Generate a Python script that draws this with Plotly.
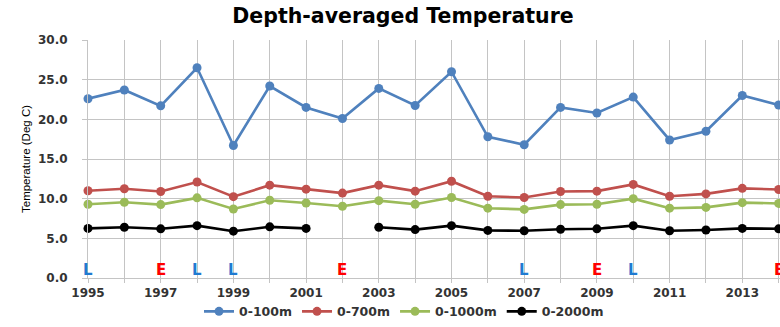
import plotly.graph_objects as go

# Years on the category axis
years = list(range(1995, 2015))

# Depth-averaged temperature (Deg C) per layer
temp_0_100 = [22.6, 23.7, 21.7, 26.5, 16.7, 24.2, 21.5, 20.1, 23.9, 21.75,
              26.0, 17.8, 16.8, 21.5, 20.8, 22.8, 17.4, 18.5, 23.0, 21.8]
temp_0_700 = [11.0, 11.25, 10.9, 12.1, 10.25, 11.7, 11.2, 10.7, 11.7, 10.95,
              12.2, 10.3, 10.15, 10.9, 10.95, 11.8, 10.3, 10.6, 11.3, 11.15]
temp_0_1000 = [9.3, 9.55, 9.25, 10.1, 8.7, 9.8, 9.45, 9.05, 9.75, 9.3,
               10.15, 8.8, 8.65, 9.25, 9.3, 10.0, 8.8, 8.9, 9.5, 9.4]
temp_0_2000 = [6.25, 6.4, 6.2, 6.6, 5.9, 6.45, 6.25, None, 6.4, 6.1,
               6.6, 6.0, 5.95, 6.15, 6.2, 6.6, 5.95, 6.05, 6.25, 6.2]

series_names = ["0-100m", "0-700m", "0-1000m", "0-2000m"]
series_colors = ["#4F81BD", "#C0504D", "#9BBB59", "#000000"]
series_values = [temp_0_100, temp_0_700, temp_0_1000, temp_0_2000]

# La Nina (L) / El Nino (E) years
event_years = [1995, 1997, 1998, 1999, 2002, 2007, 2009, 2010, 2014]
event_labels = ["L", "E", "L", "L", "E", "L", "E", "L", "E"]
event_colors = {"L": "#1F7BD1", "E": "#FF0000"}

y_ticks = [0, 5, 10, 15, 20, 25, 30]

fig = go.Figure()
for name, color, vals in zip(series_names, series_colors, series_values):
    fig.add_trace(go.Scatter(
        x=years, y=vals, name=name, mode="lines+markers",
        line=dict(color=color, width=2.6),
        marker=dict(color=color, size=9, symbol="circle"),
        connectgaps=False, cliponaxis=False,
    ))

for yr, lab in zip(event_years, event_labels):
    fig.add_annotation(
        x=yr, y=0.95, xref="x", yref="y", text=f"<b>{lab}</b>", showarrow=False,
        font=dict(family="DejaVu Sans", size=15, color=event_colors[lab]),
        yanchor="middle", xanchor="center",
    )

grid = "#C4C4C4"
tick_font = dict(family="DejaVu Sans", size=12, color="#333333", weight="bold")
fig.update_layout(
    width=780, height=327,
    margin=dict(l=88, r=0, t=40, b=47),
    paper_bgcolor="white", plot_bgcolor="white",
    title=dict(
        text="<b>Depth-averaged Temperature</b>",
        x=403 / 780, xanchor="center", y=1 - 16 / 327, yanchor="middle",
        font=dict(family="DejaVu Sans", size=20.5, color="#000000"),
    ),
    showlegend=True,
    legend=dict(
        orientation="h", x=(404 - 88) / 692, xanchor="center",
        y=-(314 - 280) / 240, yanchor="middle",
        font=dict(family="DejaVu Sans", size=12.5, color="#333333", weight="bold"),
        itemwidth=30, bgcolor="rgba(0,0,0,0)",
    ),
    xaxis=dict(
        range=[1995, 1995 + 692 / 36.35],
        tickvals=years,
        ticktext=[str(y) if (y - 1995) % 2 == 0 else "" for y in years],
        showgrid=True, gridcolor=grid, gridwidth=1,
        showline=True, linecolor=grid, linewidth=1,
        ticks="outside", ticklen=4, tickcolor=grid,
        tickfont=tick_font,
        zeroline=False,
    ),
    yaxis=dict(
        range=[0, 30],
        tickvals=y_ticks,
        ticktext=[f"{v:.1f}" for v in y_ticks],
        showgrid=True, gridcolor=grid, gridwidth=1,
        showline=True, linecolor=grid, linewidth=1,
        ticks="outside", ticklen=5, tickcolor=grid,
        ticklabelstandoff=12,
        tickfont=tick_font,
        zeroline=False,
        title=dict(
            text="Temperature (Deg C)", standoff=4,
            font=dict(family="Liberation Sans", size=11.5, color="#000000"),
        ),
    ),
)

fig.write_html("out.html")
